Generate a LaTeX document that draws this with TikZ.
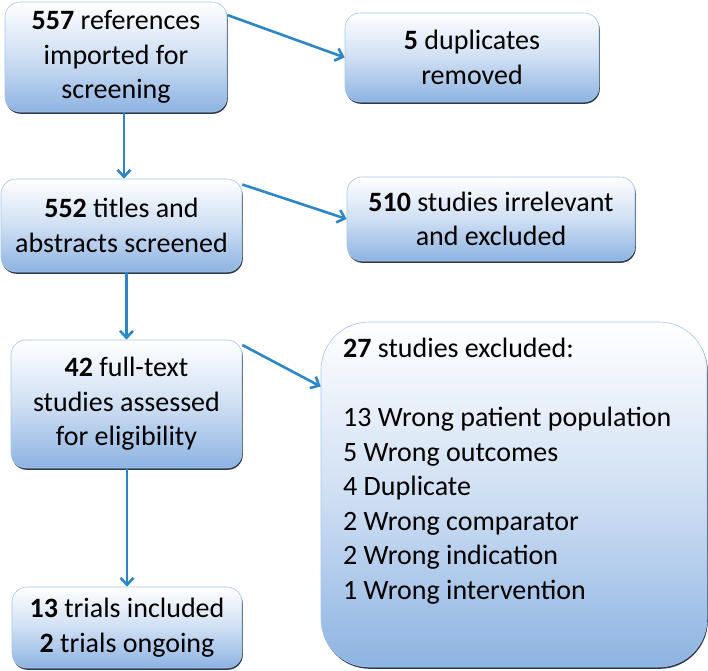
\documentclass[tikz,border=0pt]{standalone}
\usepackage{fontspec}
\setmainfont{Carlito}
\usetikzlibrary{arrows.meta,shadows,calc}
\definecolor{boxbot}{RGB}{141,179,226}
\definecolor{boxedge}{RGB}{168,198,234}
\definecolor{shadowc}{RGB}{45,56,74}
\definecolor{arrowc}{RGB}{46,134,198}
\begin{document}
\begin{tikzpicture}[x=1pt,y=-1pt,
  fbox/.style={draw=boxedge, line width=0.6pt, rounded corners=15pt,
    top color=white, bottom color=boxbot, middle color=boxbot!42!white,
    inner sep=0pt, align=center, font=\fontsize{28}{34.5}\selectfont,
    general shadow={fill=shadowc, shadow xshift=0.8pt, shadow yshift=-1.8pt}},
  txt/.style={inner sep=0pt, align=left, font=\fontsize{28}{34.5}\selectfont},
  flow/.style={draw=arrowc, line width=2.6pt,
    -{Straight Barb[length=7pt,width=13pt]}}]
\useasboundingbox (0,0) rectangle (708,670);

\node[fbox, minimum width=222pt, minimum height=110pt] (b1) at (116,57)
  {\textbf{557} references\\imported for\\screening};
\node[fbox, minimum width=254pt, minimum height=89pt] (b2) at (472,57.5)
  {\textbf{5} duplicates\\removed};
\node[fbox, minimum width=241pt, minimum height=93pt] (b3) at (121.5,225.5)
  {\textbf{552} titles and\\abstracts screened};
\node[fbox, minimum width=288pt, minimum height=84pt] (b4) at (491,219)
  {\textbf{510} studies irrelevant\\and excluded};
\node[fbox, minimum width=231pt, minimum height=128pt] (b5) at (126.5,404)
  {\textbf{42} full-text\\studies assessed\\for eligibility};
\node[fbox, minimum width=230pt, minimum height=81pt] (b7) at (127,627.5)
  {\textbf{13} trials included\\\textbf{2} trials ongoing};
\node[fbox, rounded corners=48pt, minimum width=386pt, minimum height=345pt] (b6) at (514,494.5) {};
\node[txt, anchor=north west] (t6) at (343,338)
  {\textbf{27} studies excluded:\\[34.5pt]
   13 Wrong patient population\\
   5 Wrong outcomes\\
   4 Duplicate\\
   2 Wrong comparator\\
   2 Wrong indication\\
   1 Wrong intervention};

\coordinate (s1) at ([xshift=8pt]b1.south);
\draw[flow] ([yshift=42pt]b1.east) -- (b2.west);
\draw[flow] (s1) -- (s1 |- b3.north);
\draw[flow] ([yshift=41pt]b3.east) -- (b4.west);
\draw[flow] (b5.north |- b3.south) -- (b5.north);
\draw[flow] ([yshift=59pt]b5.east) -- ([yshift=108pt]b6.west);
\draw[flow] (b7.north |- b5.south) -- (b7.north);
\end{tikzpicture}
\end{document}
